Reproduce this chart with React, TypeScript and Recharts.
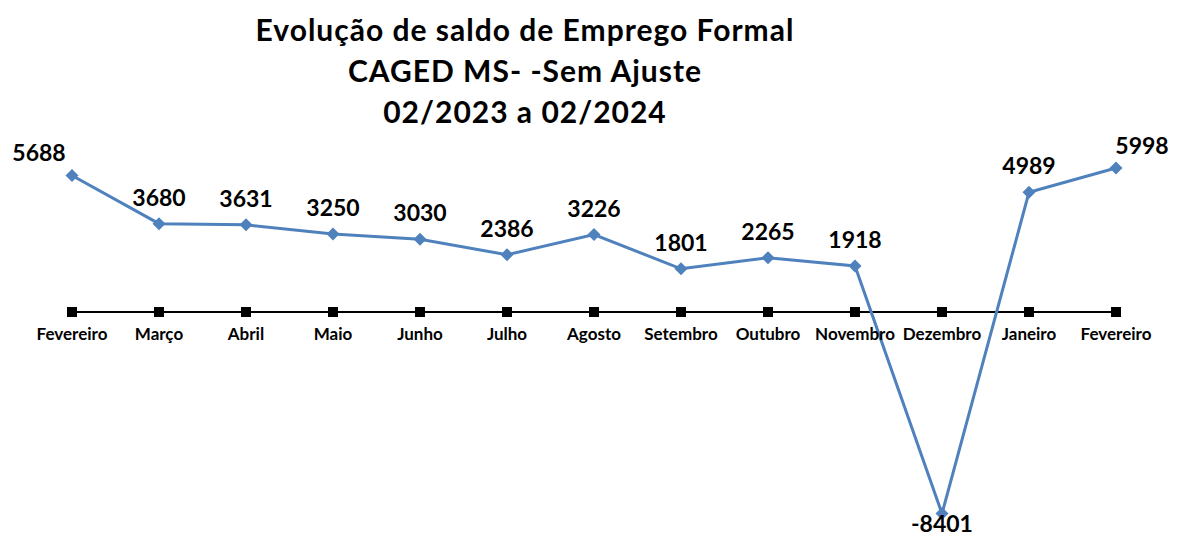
import React from 'react';
import { LineChart, Line, XAxis, YAxis, LabelList } from 'recharts';

const months = ['Fevereiro', 'Março', 'Abril', 'Maio', 'Junho', 'Julho', 'Agosto', 'Setembro', 'Outubro', 'Novembro', 'Dezembro', 'Janeiro', 'Fevereiro'];
const saldo = [5688, 3680, 3631, 3250, 3030, 2386, 3226, 1801, 2265, 1918, -8401, 4989, 5998];
const titleLines = ['Evolução de saldo de Emprego Formal', 'CAGED MS- -Sem Ajuste', '02/2023 a 02/2024'];

const data = months.map((m, i) => ({ key: i, month: m, saldo: saldo[i], zero: 0 }));

const FONT = 'Lato, "Open Sans", sans-serif';

const Diamond = (props: any) => {
  const { cx, cy } = props;
  if (cx == null || cy == null) return null;
  const r = 6.5;
  return <path d={`M${cx},${cy - r}L${cx + r},${cy}L${cx},${cy + r}L${cx - r},${cy}Z`} fill="#4F81BD" />;
};

const Square = (props: any) => {
  const { cx, cy } = props;
  if (cx == null || cy == null) return null;
  return <rect x={cx - 5} y={cy - 5} width={10} height={10} fill="#000" />;
};

const ValueLabel = (props: any) => {
  const { x, y, value, index } = props;
  let dx = 0;
  let dy = -18;
  if (index === 0) { dx = -33; dy = -14; }
  if (index === saldo.length - 1) { dx = 26; dy = -14; }
  const below = value < 0;
  return (
    <text x={x + dx} y={below ? y + 18 : y + dy} textAnchor="middle" fontFamily={FONT} fontWeight={700} fontSize={23} fill="#000">
      {value}
    </text>
  );
};

const MonthLabel = (props: any) => {
  const { x, y, index } = props;
  return (
    <text x={x} y={y + 28} textAnchor="middle" fontFamily={FONT} fontWeight={700} fontSize={17} fill="#000">
      {months[index]}
    </text>
  );
};

export default function App() {
  return (
    <div style={{ position: 'absolute', left: 0, top: 0, width: 1181, height: 537, background: '#fff' }}>
      <div style={{ position: 'absolute', left: 0, top: 9, width: 1050, textAlign: 'center', fontFamily: FONT, fontWeight: 700, fontSize: 30, letterSpacing: 1, lineHeight: '41px', color: '#000' }}>
        {titleLines.map((t, i) => (
          <div key={i}>{t}</div>
        ))}
      </div>
      <LineChart width={1181} height={537} data={data} margin={{ top: 144, right: 65, bottom: 9, left: 72 }}>
        <XAxis dataKey="key" hide scale="point" padding={{ left: 0, right: 0 }} height={0} />
        <YAxis hide domain={[-9000, 7000]} width={0} />
        <Line dataKey="zero" stroke="#000" strokeWidth={2} dot={<Square />} activeDot={false} isAnimationActive={false}>
          <LabelList dataKey="month" content={<MonthLabel />} />
        </Line>
        <Line dataKey="saldo" stroke="#4F81BD" strokeWidth={3} dot={<Diamond />} activeDot={false} isAnimationActive={false}>
          <LabelList dataKey="saldo" content={<ValueLabel />} />
        </Line>
      </LineChart>
    </div>
  );
}
